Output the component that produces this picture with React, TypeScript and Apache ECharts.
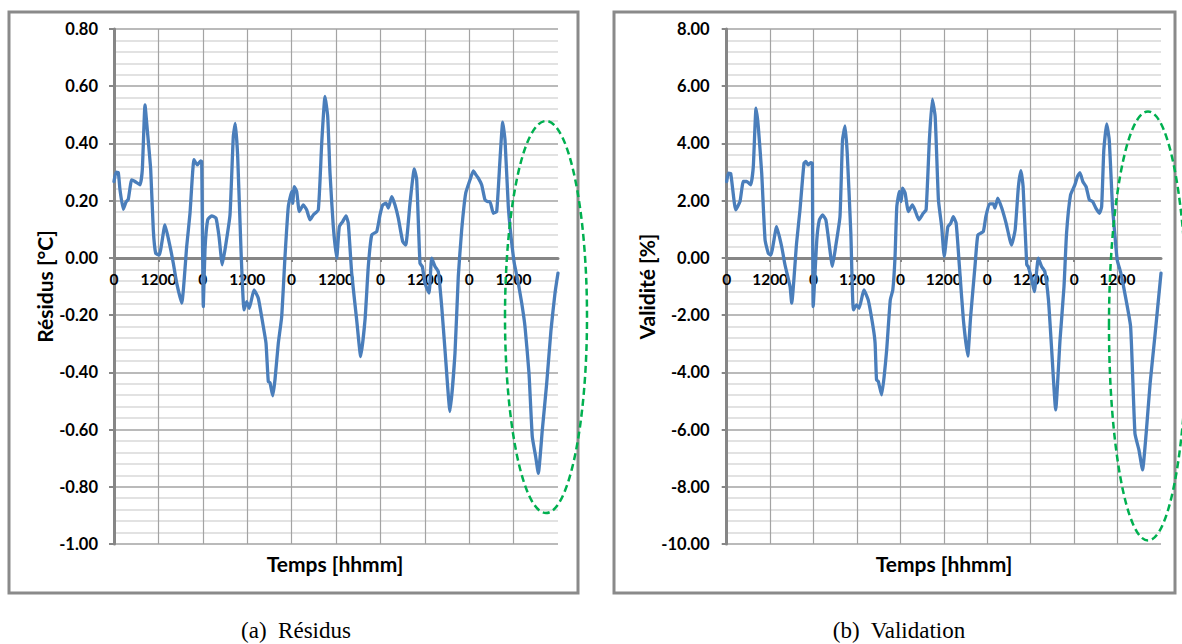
import React, { useEffect, useRef } from 'react';
import * as echarts from 'echarts';

// ---- Data (a) Résidus ----
const hoursA = [
  0, 0.54, 1.16, 1.62, 2.51, 3.24, 3.86, 4.78, 5.68, 7.03, 7.65, 8.38, 9.0, 9.92, 10.62, 11.27, 12.24,
  13.78, 15.14, 16.03, 16.95, 18.3, 19.65, 20.54, 21.62, 22.51, 23.43, 23.7, 24.14, 24.59, 25.32, 26.41,
  27.57, 28.38, 29.27, 30.27, 31.35, 32.24, 32.78, 33.43, 34.32, 35.14, 35.86, 36.57, 37.84, 39.0, 40.35,
  41.08, 41.7, 42.16, 42.89, 43.51, 44.41, 45.32, 46.22, 47.11, 48.03, 48.3, 48.73, 49.38, 50.08, 51.16,
  52.08, 52.97, 53.86, 55.22, 56.14, 57.03, 57.76, 58.38, 59.27, 60.19, 60.89, 61.81, 62.7, 63.32, 64.24,
  65.59, 66.68, 67.84, 68.73, 69.65, 71.0, 71.89, 72.62, 73.51, 74.14, 75.05, 75.95, 76.84, 78.03, 78.84,
  80.0, 81.16, 81.81, 82.7, 83.32, 84.05, 85.14, 85.86, 86.76, 87.65, 88.57, 89.46, 90.81, 92.16, 93.05,
  93.97, 95.05, 96.22, 97.11, 97.84, 98.46, 99.38, 100.27, 101.0, 101.62, 102.51, 103.43, 104.32, 105.05,
  105.68, 106.57, 107.3, 108.19, 109.11, 110.19, 111.08, 112.16, 113.05, 113.97, 114.68, 115.76, 116.95,
  118.11, 119.19, 120,
];
const residus = [
  0.267, 0.3, 0.298, 0.238, 0.17, 0.195, 0.205, 0.273, 0.267, 0.255, 0.308, 0.535, 0.447, 0.308, 0.098, 0.016, 0.01,
  0.115, 0.04, -0.019, -0.088, -0.158, 0.04, 0.156, 0.343, 0.325, 0.339, 0.337, -0.17, 0.028, 0.133, 0.147,
  0.139, 0.075, -0.024, 0.051, 0.15, 0.424, 0.47, 0.354, 0.028, -0.182, -0.153, -0.176, -0.112, -0.141, -0.24,
  -0.298, -0.432, -0.436, -0.482, -0.426, -0.298, -0.205, 0.005, 0.179, 0.232, 0.191, 0.249, 0.232, 0.162, 0.185,
  0.168, 0.133, 0.15, 0.168, 0.401, 0.564, 0.494, 0.296, 0.109, -0.001, 0.109, 0.127, 0.147, 0.121, -0.053,
  -0.217, -0.345, -0.217, -0.03, 0.08, 0.092, 0.15, 0.185, 0.191, 0.174, 0.214, 0.185, 0.139, 0.057, 0.045,
  0.191, 0.311, 0.273, -0.019, -0.03, -0.088, -0.123, -0.001, -0.03, -0.048, -0.17, -0.322, -0.537, -0.333, -0.065,
  0.098, 0.226, 0.273, 0.304, 0.29, 0.279, 0.255, 0.203, 0.197, 0.197, 0.156, 0.162, 0.343, 0.474,
  0.412, 0.179, 0.075, -0.019, -0.077, -0.158, -0.24, -0.403, -0.625, -0.695, -0.753, -0.601, -0.438,
  -0.252, -0.123, -0.053,
];

// ---- Data (b) Validation ----
const hoursB = [
  0, 0.45, 1.1, 2.49, 3.67, 4.59, 5.5, 6.63, 7.35, 8.1, 8.73, 9.67, 10.6, 11.5, 12.2, 13.8, 15.2, 16.1, 17.5,
  17.96, 19.3, 20.25, 21.36, 21.9, 22.5, 23.2, 23.65, 23.9, 24.9, 25.6, 26.5, 27.4, 28.4, 29.2, 30.1, 31.3,
  32.0, 32.7, 33.3, 34.3, 35.0, 35.9, 36.6, 37.9, 39.1, 40.5, 41.0, 41.4, 41.9, 42.8, 43.5, 44.2, 45.2, 45.9,
  46.5, 47.0, 47.7, 48.2, 48.6, 49.3, 50.2, 51.3, 52.0, 53.1, 54.3, 55.1, 56.0, 56.8, 57.6, 58.5, 59.4, 60.1,
  61.1, 61.9, 62.6, 63.4, 64.3, 65.4, 66.6, 67.4, 68.6, 69.4, 70.9, 71.6, 72.6, 73.7, 74.1, 74.9, 76.0, 77.2,
  78.7, 79.7, 80.6, 81.3, 81.9, 82.9, 83.3, 84.3, 85.0, 86.1, 87.0, 87.9, 88.9, 89.8, 90.9, 92.1, 93.2, 93.9,
  95.0, 96.2, 96.9, 97.6, 98.4, 99.3, 100.2, 101.1, 102.0, 103.0, 103.6, 104.2, 105.0, 105.7, 106.6, 107.3,
  107.9, 108.9, 110.0, 111.6, 112.8, 113.9, 114.9, 115.9, 117.0, 118.3, 120,
];
const validite = [
  2.67, 2.96, 2.95, 1.68, 1.97, 2.67, 2.67, 2.55, 3.19, 5.23, 4.59, 2.96, 0.63, 0.16, 0.1, 1.09, 0.39, -0.24, -1.0,
  -1.58, 0.51, 1.68, 3.31, 3.37, 3.25, 3.33, 3.31, -1.7, 0.63, 1.33, 1.5, 1.33, 0.39, -0.3, 0.39, 1.44,
  4.12, 4.61, 3.66, 0.86, -1.82, -1.64, -1.76, -1.12, -1.47, -2.46, -2.98, -4.26, -4.32, -4.79, -4.15, -3.22, -1.47, -1.12,
  0.0, 1.79, 2.32, 1.97, 2.44, 2.26, 1.62, 1.85, 1.68, 1.33, 1.56, 1.68, 4.12, 5.55, 4.94, 2.03, 1.09, 0.05,
  1.09, 1.21, 1.44, 1.21, -0.3, -2.17, -3.43, -2.05, -0.3, 0.8, 0.92, 1.44, 1.89, 1.89, 1.74, 2.09, 1.74, 1.21,
  0.45, 0.98, 2.49, 3.05, 2.49, -0.24, -0.3, -0.77, -1.18, -0.01, -0.3, -0.48, -1.47, -3.22, -5.31, -2.87, -1.0, 0.86,
  2.2, 2.55, 2.84, 2.98, 2.67, 2.49, 2.03, 1.97, 1.74, 1.56, 1.79, 3.77, 4.68, 4.12, 1.79, 0.74,
  -0.07, -0.53, -1.23, -2.4, -6.13, -6.71, -7.41, -6.13, -4.38, -2.75, -0.53,
];

// ---- Tick labels / texts ----
const xTickLabels = ['0', '1200', '0', '1200', '0', '1200', '0', '1200', '0', '1200'];
const yTitles = ['Résidus [°C]', 'Validité [%]'];
const xTitle = 'Temps [hhmm]';
const captions = ['(a)  Résidus', '(b)  Validation'];

const FONT = 'Lato';
const AXIS_GRAY = '#868686';
const GRID_GRAY = '#a3a3a3';
const MINOR_GRAY = '#d9d9d9';
const LINE_BLUE = '#4a7ebb';
const GREEN = '#00b050';

const GRID_TOP = 29;
const GRID_H = 515;

// offset that lifts the bottom x axis up to the value 0 of its y axis
function zeroOffset(min: number, max: number) {
  return -(GRID_H * (0 - min)) / (max - min);
}

function makeXAxis(gridIndex: number, yMin: number, yMax: number) {
  return {
    type: 'value',
    gridIndex,
    min: 0,
    max: 120,
    interval: 12,
    position: 'bottom',
    offset: zeroOffset(yMin, yMax),
    axisLine: { show: true, onZero: false, lineStyle: { color: AXIS_GRAY, width: 3 } },
    axisTick: { show: true, length: 4, lineStyle: { color: AXIS_GRAY, width: 2 } },
    axisLabel: {
      formatter: (v: number) => (v >= 120 ? '' : xTickLabels[Math.round(v / 12)] ?? ''),
      color: '#000',
      fontFamily: FONT,
      fontWeight: 'bold',
      fontSize: 15.5,
      margin: 13,
      showMaxLabel: false,
    },
    splitLine: { show: true, showMinLine: false, showMaxLine: false, lineStyle: { color: GRID_GRAY, width: 1.2 } },
  };
}

function makeYAxis(gridIndex: number, min: number, max: number, interval: number, name: string, margin: number, nameGap: number) {
  return {
    type: 'value',
    gridIndex,
    min,
    max,
    interval,
    name,
    nameLocation: 'middle',
    nameGap,
    nameRotate: 90,
    nameTextStyle: { fontFamily: FONT, fontWeight: 'bold', fontSize: 21, color: '#000' },
    axisLine: { show: true, onZero: false, lineStyle: { color: AXIS_GRAY, width: 3 } },
    axisTick: { show: true, length: 5, lineStyle: { color: AXIS_GRAY, width: 2 } },
    axisLabel: {
      formatter: (v: number) => v.toFixed(2),
      color: '#000',
      fontFamily: FONT,
      fontWeight: 'bold',
      fontSize: 16.5,
      margin,
    },
    splitLine: { show: true, lineStyle: { color: GRID_GRAY, width: 1.5 } },
    minorTick: { show: false, splitNumber: 5 },
    minorSplitLine: { show: true, lineStyle: { color: MINOR_GRAY, width: 1.5 } },
  };
}

export default function App() {
  const ref = useRef<HTMLDivElement>(null);
  useEffect(() => {
    if (!ref.current) return;
    const chart = echarts.init(ref.current, undefined, { renderer: 'svg' });
    const textStyle = (text: string, x: number, y: number, font: string) => ({
      type: 'text',
      x,
      y,
      z: 50,
      style: {
        text,
        font,
        fill: '#000',
        align: 'center',
        verticalAlign: 'middle',
        textAlign: 'center',
        textVerticalAlign: 'middle',
      },
    });
    chart.setOption({
      animation: false,
      backgroundColor: '#fff',
      grid: [
        { left: 114, top: GRID_TOP, width: 444, height: GRID_H, containLabel: false },
        { left: 726.7, top: GRID_TOP, width: 434.3, height: GRID_H, containLabel: false },
      ],
      xAxis: [makeXAxis(0, -1, 0.8), makeXAxis(1, -10, 8)],
      yAxis: [
        makeYAxis(0, -1, 0.8, 0.2, yTitles[0], 16, 59),
        makeYAxis(1, -10, 8, 2, yTitles[1], 17, 68),
      ],
      series: [
        {
          type: 'line',
          xAxisIndex: 0,
          yAxisIndex: 0,
          data: hoursA.map((h, i) => [h, residus[i]]),
          showSymbol: false,
          smooth: 0.15,
          lineStyle: { color: LINE_BLUE, width: 3.3, join: 'round', cap: 'round' },
          z: 5,
        },
        {
          type: 'line',
          xAxisIndex: 1,
          yAxisIndex: 1,
          data: hoursB.map((h, i) => [h, validite[i]]),
          showSymbol: false,
          smooth: 0.15,
          lineStyle: { color: LINE_BLUE, width: 3.3, join: 'round', cap: 'round' },
          z: 5,
        },
      ],
      graphic: [
        {
          type: 'rect',
          z: 1,
          shape: { x: 9, y: 12, width: 569, height: 581 },
          style: { fill: 'none', stroke: '#8a8a8a', lineWidth: 3 },
        },
        {
          type: 'rect',
          z: 1,
          shape: { x: 614, y: 12, width: 561, height: 581 },
          style: { fill: 'none', stroke: '#8a8a8a', lineWidth: 3 },
        },
        {
          type: 'ellipse',
          z: 60,
          shape: { cx: 546, cy: 317, rx: 41, ry: 196 },
          style: { fill: 'none', stroke: GREEN, lineWidth: 2.5, lineDash: [7, 4] },
        },
        {
          type: 'ellipse',
          z: 60,
          shape: { cx: 1148, cy: 326, rx: 39, ry: 214.5 },
          style: { fill: 'none', stroke: GREEN, lineWidth: 2.5, lineDash: [7, 4] },
        },
        textStyle(xTitle, 335, 563, `bold 21px ${FONT}`),
        textStyle(xTitle, 944, 563, `bold 21px ${FONT}`),
        textStyle(captions[0], 296, 630, '23px "Liberation Serif"'),
        textStyle(captions[1], 899, 630, '23px "Liberation Serif"'),
      ],
    });
    return () => chart.dispose();
  }, []);
  return (
    <div
      ref={ref}
      style={{ position: 'absolute', left: 0, top: 0, width: 1182, height: 644, background: '#fff' }}
    />
  );
}
